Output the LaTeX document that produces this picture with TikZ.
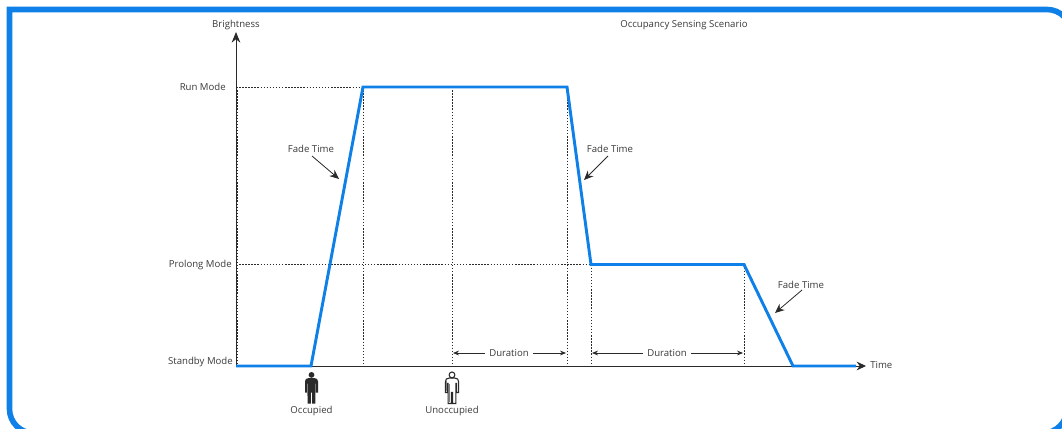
\documentclass[tikz,border=0pt]{standalone}
\usepackage{fontspec}
\setmainfont{Open Sans}
\usetikzlibrary{arrows.meta}
\definecolor{fr}{HTML}{0F80E8}
\definecolor{ink}{HTML}{2A2A2A}
\definecolor{txt}{HTML}{3A3A3A}
\tikzset{
  lab/.style={font=\fontsize{7.2pt}{8pt}\selectfont,text=txt,inner sep=0pt},
  guide/.style={ink,line width=0.6pt,dash pattern=on 1.1pt off 1.2pt},
  axisl/.style={ink,line width=0.75pt},
  curve/.style={fr,line width=2.2pt,line join=miter},
  tip/.style={-{Stealth[length=7pt,width=6pt]},ink,line width=0.6pt},
  dimr/.style={-{Stealth[length=4.5pt,width=3.6pt]},ink,line width=0.6pt},
  framel/.style={fr,line width=4.2pt},
  personpath/.pic={
    \path[pic actions] (-2.6,5.5) -- (2.6,5.5)
      .. controls (5.5,5.5) and (6.5,7) .. (6.5,9) -- (6.5,20)
      -- (4.4,20) -- (4.4,11) -- (3.8,11) -- (3.8,31) -- (0.6,31) -- (0.6,20) -- (-0.6,20)
      -- (-0.6,31) -- (-3.8,31) -- (-3.8,11) -- (-4.4,11) -- (-4.4,20) -- (-6.5,20) -- (-6.5,9)
      .. controls (-6.5,7) and (-5.5,5.5) .. (-2.6,5.5) -- cycle;
    \path[pic actions] (0,2.4) circle (2.9);
  }
}
\begin{document}
\begin{tikzpicture}[x=0.75pt,y=-0.75pt]
\useasboundingbox (0,0) rectangle (1062,428);
\fill[white] (0,0) rectangle (1062,428);
% frame
\begin{scope}
\clip (0,0) rectangle (1062,428);
\draw[framel] (33.5,433) arc[start angle=90,end angle=180,radius=24] -- (9.5,9.5) -- (1047,9.5) arc[start angle=-90,end angle=0,radius=24];
\draw[framel] (1067,409) arc[start angle=0,end angle=90,radius=24];
\end{scope}
% coordinates
\coordinate (O) at (236,366);
\coordinate (Ytop) at (236,32);
\coordinate (Xend) at (866,366);
\coordinate (RunL) at (236,87);
\coordinate (ProL) at (236,264.5);
\coordinate (c1) at (311,366);
\coordinate (c2) at (363,87);
\coordinate (c3) at (567,87);
\coordinate (c4) at (591,264.5);
\coordinate (c5) at (744,264.5);
\coordinate (c6) at (793,366);
\coordinate (mid) at (452,87);
\coordinate (midb) at (452,366);
% guides
\draw[guide] (RunL) -- (c2);
\draw[guide] (ProL) -- (c4);
\draw[guide] (c2) -- (c2|-O);
\draw[guide] (mid) -- (midb);
\draw[guide] (c3) -- (c3|-O);
\draw[guide] (c4) -- (c4|-O);
\draw[guide] (c5) -- (c5|-O);
% axes
\draw[axisl,-{Stealth[length=8pt,width=6.5pt]}] (O) -- (Ytop);
\draw[guide] (237.2,87) -- (237.2,366);
\draw[axisl] (O) -- (c6);
% curve
\draw[curve] (O) -- (c1) -- (c2) -- (c3) -- (c4) -- (c5) -- (c6) -- (856,366);
\draw[ink,-{Stealth[length=7pt,width=6.5pt]},line width=0.7pt] (856,366) -- (Xend);
% labels
\node[lab] (brt) at (236,25) {Brightness};
\node[lab] (title) at (684,25) {Occupancy Sensing Scenario};
\node[lab,anchor=east] (run) at (226,87) {Run Mode};
\node[lab,anchor=east] (pro) at (232,265) {Prolong Mode};
\node[lab,anchor=east] (sta) at (233,362) {Standby Mode};
\node[lab,anchor=west] (tm) at (870,365) {Time};
% fade
\node[lab] (f1) at (311,149) {Fade Time};
\node[lab] (f2) at (610,149) {Fade Time};
\node[lab] (f3) at (801,285) {Fade Time};
\coordinate (f1s) at (312,156);
\coordinate (f2s) at (608,156);
\coordinate (f3s) at (802,290);
\coordinate (f1e) at (339,179);
\coordinate (f2e) at (584,180);
\coordinate (f3e) at (775,313);
\draw[tip] (f1s) -- (f1e);
\draw[tip] (f2s) -- (f2e);
\draw[tip] (f3s) -- (f3e);
% durations
\node[lab] (d1) at (509,353) {Duration};
\node[lab] (d2) at (667,353) {Duration};
\coordinate (d1a) at (453,353);
\coordinate (d1b) at (566,353);
\coordinate (d2a) at (592,353);
\coordinate (d2b) at (743,353);
\draw[dimr] ([xshift=-3pt]d1.west) -- (d1a);
\draw[dimr] ([xshift=3pt]d1.east) -- (d1b);
\draw[dimr] ([xshift=-3pt]d2.west) -- (d2a);
\draw[dimr] ([xshift=3pt]d2.east) -- (d2b);
% people
\node[lab] (occ) at (311.5,411) {Occupied};
\node[lab] (unocc) at (452,411) {Unoccupied};
\pic[fill=ink] at (311.5,372.5) {personpath};
\draw[gray,line width=0.8pt] (307.5,384) -- (307.5,396);
\pic[fill=white,draw=ink,line width=0.8pt] at (452,372.5) {personpath};
\draw[gray,line width=1pt] (449.5,384) -- (449.5,402);
\draw[gray,line width=1pt] (446.5,381) -- (446.5,391);
\end{tikzpicture}
\end{document}
